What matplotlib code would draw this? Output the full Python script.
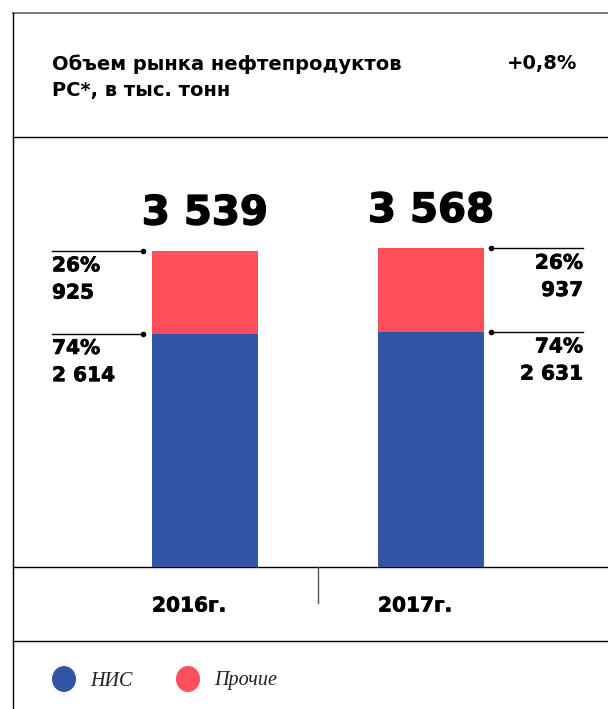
import matplotlib
matplotlib.use("Agg")
import matplotlib.pyplot as plt
import matplotlib.patheffects as pe
from matplotlib.patches import Ellipse

years = ["2016г.", "2017г."]
nis = [2614, 2631]
other = [925, 937]
totals = ["3 539", "3 568"]
nis_lbl = ["74%\n2 614", "74%\n2 631"]
other_lbl = ["26%\n925", "26%\n937"]
title = "Объем рынка нефтепродуктов\nРС*, в тыс. тонн"
growth = "+0,8%"
series = ["НИС", "Прочие"]
blue = "#3155a4"
red = "#ff4f5a"

W, H = 608, 709
fig = plt.figure(figsize=(W / 100, H / 100), dpi=100)

# background frame in pixel coordinates
bg = fig.add_axes([0, 0, 1, 1])
bg.set_xlim(0, W)
bg.set_ylim(H, 0)
bg.axis("off")
bg.plot([13, W], [13, 13], color="#707070", lw=1.3)
bg.plot([13, 13], [13, H], color="black", lw=1)
for yy in [137, 567, 641]:
    bg.plot([13, W], [yy, yy], color="black", lw=1)
bg.plot([318, 318], [567, 603], color="#555555", lw=1)

bg.text(52, 77, title, fontsize=14, fontweight="bold",
        va="center", ha="left", linespacing=1.45)
bg.text(577, 64, growth, fontsize=14, fontweight="bold",
        va="center", ha="right")

thick = [pe.withStroke(linewidth=0.5, foreground="black")]
for i, yr in enumerate(years):
    bg.text([152, 378][i], 606, yr, fontsize=14.5, fontweight="bold",
            ha="left", va="center", path_effects=thick)

# legend
for i, name in enumerate(series):
    cx = [64, 188][i]
    bg.add_patch(Ellipse((cx, 679), 24, 26, color=[blue, red][i], lw=0))
    bg.text(cx + 26, 681, name, fontsize=14.5, style="italic",
            family="Liberation Serif", ha="left", va="center", color="#222222")

# bars
bottom_px = 567
top_px = 137
scale = 0.0893
ax = fig.add_axes([0, (H - bottom_px) / H, 1, (bottom_px - top_px) / H])
ax.patch.set_alpha(0)
ax.axis("off")
ax.set_xlim(0, W)
ax.set_ylim(0, (bottom_px - top_px) / scale)
xs = [205, 431]
ax.bar(xs, nis, width=106, color=blue)
ax.bar(xs, other, width=106, bottom=nis, color=red)

big = [pe.withStroke(linewidth=1.0, foreground="black")]
for i, x in enumerate(xs):
    tot = nis[i] + other[i]
    ax.text(x, tot + 420, totals[i], fontsize=29, fontweight="bold",
            ha="center", va="center", path_effects=big)
    if i == 0:
        x0, x1, tx, ha = 52, 143, 52, "left"
        dot = x1
    else:
        x0, x1, tx, ha = 491, 583, 583, "right"
        dot = x0
    for yv, lbl in [(tot, other_lbl[i]), (nis[i], nis_lbl[i])]:
        ax.plot([x0, x1], [yv, yv], color="black", lw=1)
        ax.plot([dot], [yv], "o", color="black", ms=3)
        ax.text(tx, yv - 60, lbl, fontsize=14.5, fontweight="bold",
                ha=ha, va="top", linespacing=1.55, multialignment=ha,
                path_effects=thick)

fig.savefig("out.png", dpi=100)
